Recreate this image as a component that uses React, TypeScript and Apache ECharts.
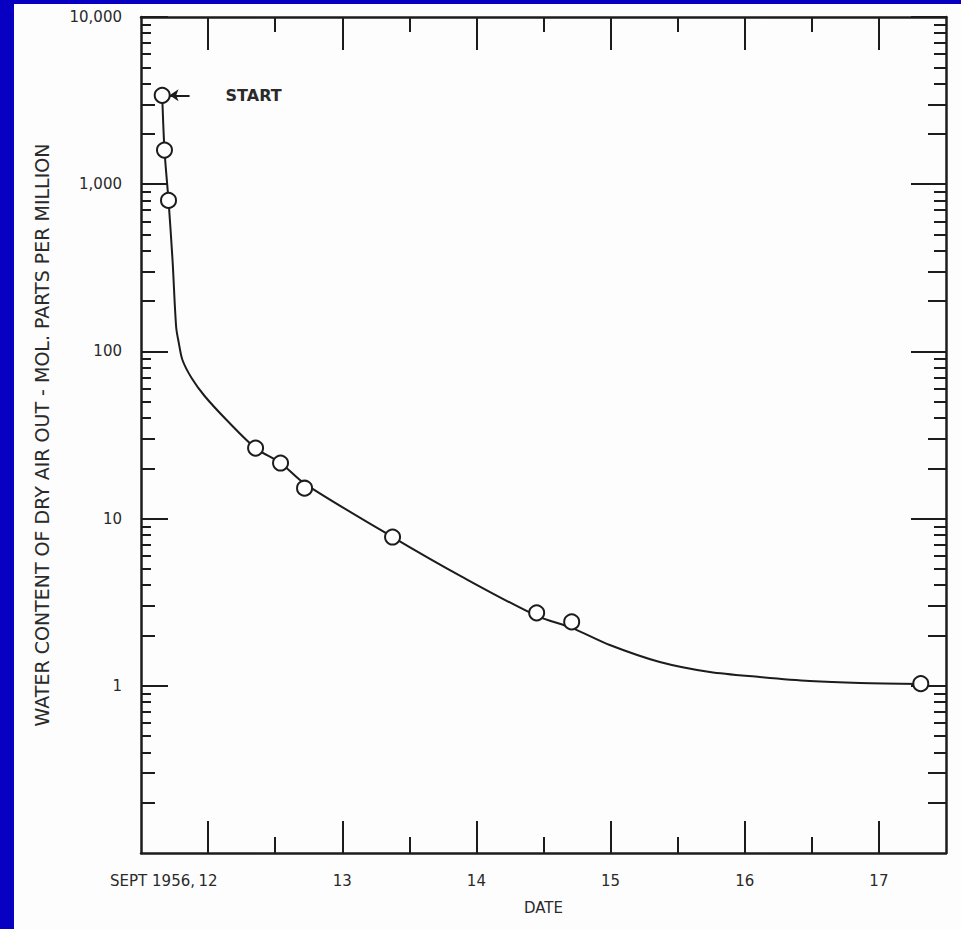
import { useEffect, useRef } from 'react';
import * as echarts from 'echarts';

// ---- tick values ----
const dayTicks = [12, 13, 14, 15, 16, 17];
const halfDayTicks = [12.5, 13.5, 14.5, 15.5, 16.5];
const decadeTicks = [1, 10, 100, 1000, 10000];
const minorTicks23 = [0.2, 0.3, 2, 3, 20, 30, 200, 300, 2000, 3000];
const minorTicks4to9 = [
  0.4, 0.5, 0.6, 0.7, 0.8, 0.9,
  4, 5, 6, 7, 8, 9,
  40, 50, 60, 70, 80, 90,
  400, 500, 600, 700, 800, 900,
  4000, 5000, 6000, 7000, 8000, 9000,
];

// ---- measured points (date in Sept 1956, water content ppm) ----
const sampleDays = [11.658, 11.675, 11.705, 12.354, 12.54, 12.719, 13.375, 14.449, 14.71, 17.312];
const sampleWater = [3400, 1600, 800, 26.4, 21.5, 15.2, 7.76, 2.73, 2.41, 1.03];

// ---- faired curve ----
const curveDays = [
  11.658, 11.675, 11.705, 11.735, 11.762, 11.782, 11.809, 11.877, 11.974, 12.138,
  12.354, 12.54, 12.719, 13.375, 13.897, 14.449, 14.71, 14.994, 15.367, 15.74,
  16.112, 16.485, 16.858, 17.312,
];
const curveWater = [
  3400, 1600, 800, 352, 140, 112, 88.8, 69.3, 54.1, 38.9,
  26.4, 21.5, 16.2, 7.76, 4.47, 2.62, 2.22, 1.754, 1.388, 1.209,
  1.129, 1.068, 1.039, 1.025,
];

// START annotation (data coordinates)
const startArrowFrom = [11.7125, 3400];
const startArrowTo = [11.862, 3400];

const INK = '#1c1c1c';
const TEXT = '#2a2a2a';
const FONT = 'DejaVu Sans';

function xAxisDef(position: string, ticks: number[], len: number, main: boolean) {
  return {
    type: 'value',
    min: 11.5,
    max: 17.5,
    position,
    axisLine: { show: main, onZero: false, lineStyle: { color: INK, width: 2.5 } },
    axisTick: { show: true, inside: true, length: len, customValues: ticks, lineStyle: { color: INK, width: 2 } },
    axisLabel: { show: false },
    splitLine: { show: false },
  };
}

function yAxisDef(position: string, ticks: number[], len: number, main: boolean) {
  return {
    type: 'log',
    logBase: 10,
    min: 0.1,
    max: 10000,
    position,
    axisLine: { show: main, onZero: false, lineStyle: { color: INK, width: 2.5 } },
    axisTick: { show: true, inside: true, length: len, customValues: ticks, lineStyle: { color: INK, width: 2 } },
    axisLabel: { show: false },
    splitLine: { show: false },
  };
}

export default function App() {
  const ref = useRef<HTMLDivElement>(null);

  useEffect(() => {
    const chart = echarts.init(ref.current!, null, { renderer: 'svg' });

    const xMain: any = xAxisDef('bottom', dayTicks, 32, true);
    xMain.axisLabel = {
      show: true,
      customValues: dayTicks,
      margin: 20,
      fontSize: 15,
      color: TEXT,
      fontFamily: FONT,
      formatter: (v: number) => String(Math.round(v)),
    };
    xMain.name = 'DATE';
    xMain.nameLocation = 'middle';
    xMain.nameGap = 47;
    xMain.nameTextStyle = { fontSize: 15, color: TEXT, fontFamily: FONT };

    const yMain: any = yAxisDef('left', decadeTicks, 27, true);
    yMain.axisLabel = {
      show: true,
      customValues: decadeTicks,
      margin: 19,
      fontSize: 15,
      color: TEXT,
      fontFamily: FONT,
      formatter: (v: number) => Math.round(v).toLocaleString('en-US'),
    };
    yMain.name = 'WATER CONTENT OF DRY AIR OUT - MOL. PARTS PER MILLION';
    yMain.nameLocation = 'middle';
    yMain.nameRotate = 90;
    yMain.nameGap = 90;
    yMain.nameTextStyle = { fontSize: 19, color: TEXT, fontFamily: FONT };

    chart.setOption({
      animation: false,
      backgroundColor: '#fdfdfd',
      grid: { left: 141, right: 15, top: 17, bottom: 76, containLabel: false },
      xAxis: [
        xMain,
        xAxisDef('bottom', halfDayTicks, 16, false),
        xAxisDef('top', dayTicks, 33, true),
        xAxisDef('top', halfDayTicks, 15, false),
      ],
      yAxis: [
        yMain,
        yAxisDef('left', minorTicks23, 14, false),
        yAxisDef('left', minorTicks4to9, 10, false),
        yAxisDef('right', decadeTicks, 35, true),
        yAxisDef('right', minorTicks23, 18, false),
        yAxisDef('right', minorTicks4to9, 12, false),
      ],
      graphic: [
        { type: 'rect', shape: { x: 0, y: 0, width: 14, height: 929 }, style: { fill: '#0700c2' }, z: 100 },
        { type: 'rect', shape: { x: 0, y: 0, width: 961, height: 4 }, style: { fill: '#0700c2' }, z: 100 },
        {
          type: 'text',
          x: 195,
          y: 881,
          style: {
            text: 'SEPT 1956,',
            fill: TEXT,
            font: `15px "${FONT}"`,
            align: 'right',
            verticalAlign: 'middle',
          },
        },
      ],
      series: [
        {
          type: 'line',
          name: 'curve',
          xAxisIndex: 0,
          yAxisIndex: 0,
          data: curveDays.map((d, i) => [d, curveWater[i]]),
          showSymbol: false,
          smooth: 0.3,
          lineStyle: { color: INK, width: 2 },
          z: 2,
        },
        {
          type: 'scatter',
          name: 'samples',
          xAxisIndex: 0,
          yAxisIndex: 0,
          data: sampleDays.map((d, i) => [d, sampleWater[i]]),
          symbol: 'circle',
          symbolSize: 15,
          itemStyle: { color: '#ffffff', borderColor: INK, borderWidth: 2, opacity: 1 },
          z: 3,
          markLine: {
            silent: true,
            symbol: ['arrow', 'none'],
            symbolSize: 9,
            lineStyle: { color: INK, width: 2, type: 'solid' },
            label: {
              show: true,
              position: 'end',
              formatter: 'START',
              distance: 36,
              fontSize: 16,
              fontWeight: 'bold',
              color: TEXT,
              fontFamily: FONT,
            },
            data: [[{ coord: startArrowFrom }, { coord: startArrowTo }]],
          },
        },
      ],
    });

    return () => chart.dispose();
  }, []);

  return (
    <div
      ref={ref}
      style={{ position: 'fixed', left: 0, top: 0, width: 961, height: 929, background: '#fdfdfd' }}
    />
  );
}
